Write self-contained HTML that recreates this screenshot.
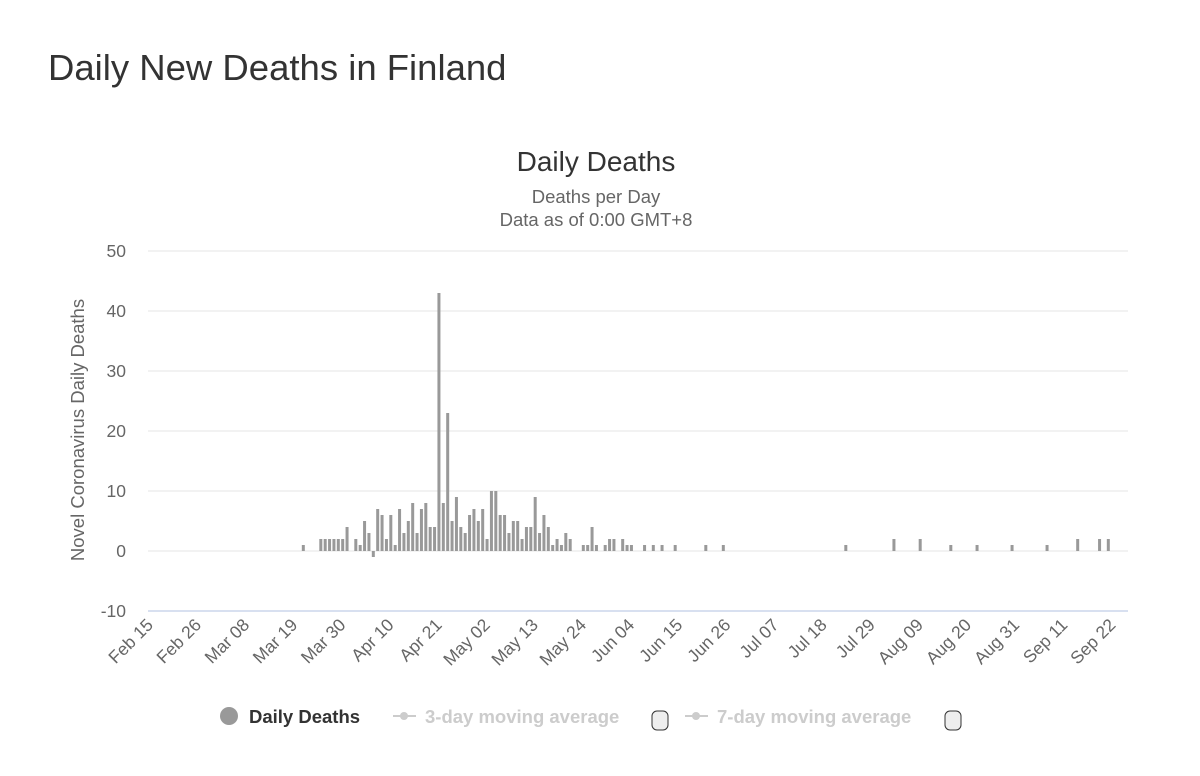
<!DOCTYPE html>
<html><head><meta charset="utf-8"><style>
body{margin:0;background:#fff;font-family:"Liberation Sans",sans-serif;}
</style></head><body>
<svg width="1200" height="771" xmlns="http://www.w3.org/2000/svg" style="font-family:'Liberation Sans',sans-serif">
<text x="48" y="80" font-size="36.5" fill="#333">Daily New Deaths in Finland</text>
<text x="596" y="171" font-size="28" fill="#333" text-anchor="middle">Daily Deaths</text>
<text x="596" y="203" font-size="18.5" fill="#666" text-anchor="middle">Deaths per Day</text>
<text x="596" y="226" font-size="18.5" fill="#666" text-anchor="middle">Data as of 0:00 GMT+8</text>
<text transform="translate(84,430) rotate(-90)" font-size="18.5" fill="#666" text-anchor="middle">Novel Coronavirus Daily Deaths</text>
<g id="grid"></g><g id="bars"></g><g id="xlabels"></g>
<g>
<circle cx="229" cy="716" r="9" fill="#999"/>
<text x="249" y="723" font-size="18.5" font-weight="bold" fill="#333">Daily Deaths</text>
<line x1="393" y1="716" x2="416" y2="716" stroke="#ccc" stroke-width="2"/><circle cx="404" cy="716" r="4" fill="#ccc"/>
<text x="425" y="723" font-size="18.5" font-weight="bold" fill="#ccc">3-day moving average</text>
<rect x="652" y="711" width="16" height="19" rx="5" fill="#eee" stroke="#333"/>
<line x1="685" y1="716" x2="708" y2="716" stroke="#ccc" stroke-width="2"/><circle cx="696" cy="716" r="4" fill="#ccc"/>
<text x="717" y="723" font-size="18.5" font-weight="bold" fill="#ccc">7-day moving average</text>
<rect x="945" y="711" width="16" height="19" rx="5" fill="#eee" stroke="#333"/>
</g>
</svg>
<script>
const yTicks=[50,40,30,20,10,0,-10];
const xLabels=["Feb 15","Feb 26","Mar 08","Mar 19","Mar 30","Apr 10","Apr 21","May 02","May 13","May 24","Jun 04","Jun 15","Jun 26","Jul 07","Jul 18","Jul 29","Aug 09","Aug 20","Aug 31","Sep 11","Sep 22"];
const dayIndex=[35,39,40,41,42,43,44,45,47,48,49,50,51,52,53,54,55,56,57,58,59,60,61,62,63,64,65,66,67,68,69,70,71,72,73,74,75,76,77,78,79,80,81,82,83,84,85,86,87,88,89,90,91,92,93,94,95,96,99,100,101,102,104,105,106,108,109,110,113,115,117,120,127,131,159,170,176,183,189,197,205,212,217,219];
const deaths=[1,2,2,2,2,2,2,4,2,1,5,3,-1,7,6,2,6,1,7,3,5,8,3,7,8,4,4,43,8,23,5,9,4,3,6,7,5,7,2,10,10,6,6,3,5,5,2,4,4,9,3,6,4,1,2,1,3,2,1,1,4,1,1,2,2,2,1,1,1,1,1,1,1,1,1,2,2,1,1,1,1,2,2,2];
const NS="http://www.w3.org/2000/svg";
const L=148,R=1128,NDAYS=224,DW=(R-L)/NDAYS;
const x=i=>L+(i+0.5)*DW;
const y=v=>551-v*6;
const grid=document.getElementById('grid');
yTicks.forEach(t=>{
 const ln=document.createElementNS(NS,'line');
 ln.setAttribute('x1',L);ln.setAttribute('x2',R);ln.setAttribute('y1',y(t));ln.setAttribute('y2',y(t));
 ln.setAttribute('stroke',t===-10?'#ccd6eb':'#e6e6e6');ln.setAttribute('stroke-width',t===-10?1.5:1);
 
 
 grid.appendChild(ln);
 const tx=document.createElementNS(NS,'text');
 tx.setAttribute('x',126);tx.setAttribute('y',y(t)+6);tx.setAttribute('text-anchor','end');
 tx.setAttribute('font-size','17.5');tx.setAttribute('fill','#666');tx.textContent=t;
 
 
 grid.appendChild(tx);
});
const bars=document.getElementById('bars');
dayIndex.forEach((d,k)=>{
 const v=deaths[k];const r=document.createElementNS(NS,'rect');
 const top=Math.min(y(v),y(0)),h=Math.max(Math.abs(y(v)-y(0)),1.5);
 r.setAttribute('x',x(d)-1.5);r.setAttribute('width',3);r.setAttribute('y',v<0?y(0):top);r.setAttribute('height',h);
 r.setAttribute('fill','#999');
 
 
 bars.appendChild(r);
});
const xl=document.getElementById('xlabels');
xLabels.forEach((s,k)=>{
 const cx=x(k*11)+4,cy=626;
 const t=document.createElementNS(NS,'text');
 t.setAttribute('transform',`translate(${cx},${cy}) rotate(-45)`);
 t.setAttribute('text-anchor','end');t.setAttribute('font-size','17.5');t.setAttribute('fill','#666');
 t.textContent=s;
 
 
 xl.appendChild(t);
});
</script>
</body></html>
